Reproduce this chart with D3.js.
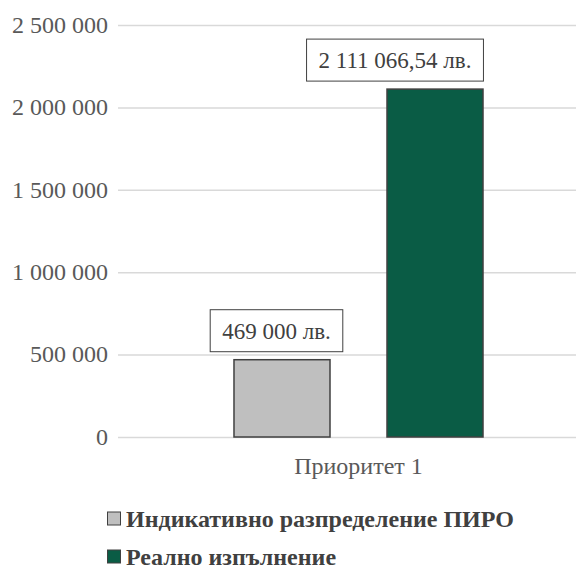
<!DOCTYPE html>
<html><head><meta charset="utf-8">
<script src="https://cdn.jsdelivr.net/npm/d3@7"></script>
<style>body{margin:0;background:#fff}svg{display:block}</style>
</head><body>
<svg id="c" width="576" height="567"></svg>
<script>
const categories = ["Приоритет 1"];
const seriesNames = ["Индикативно разпределение ПИРО", "Реално изпълнение"];
const seriesValues = [469000, 2111066.54];
const valueLabels = ["469 000 лв.", "2 111 066,54 лв."];
const tickValues = [0, 500000, 1000000, 1500000, 2000000, 2500000];
const colors = ["#BFBFBF", "#0A5C45"];
const labelOffsets = [-5.5, -40];

const svg = d3.select("#c");
const FONT = "Liberation Serif";
const m = {l:118, r:599, t:25, b:437};
const y = d3.scaleLinear().domain([0, 2500000]).range([m.b, m.t]);
const x0 = d3.scaleBand().domain(categories).range([m.l, m.r]);
const x1 = d3.scaleBand().domain(seriesNames).range([0, x0.bandwidth()]).paddingInner(0.3725).paddingOuter(0.758);

const fmt = v => d3.format(",")(v).replace(/,/g, " ");
const yAxis = d3.axisLeft(y).tickValues(tickValues).tickSize(-(m.r - m.l)).tickFormat(fmt).tickPadding(10);
const g = svg.append("g").attr("transform", `translate(${m.l},0)`).call(yAxis);
g.attr("font-family", FONT).attr("font-size", 24);
g.select(".domain").remove();
g.selectAll(".tick line").attr("stroke", "#D9D9D9").attr("stroke-width", 1.5);
g.selectAll(".tick text").attr("fill", "#595959").attr("dy", "0.3em");

const bars = svg.append("g");
seriesNames.forEach((s, i) => {
  const xb = x0(categories[0]) + x1(s);
  bars.append("rect").attr("x", xb).attr("y", y(seriesValues[i]))
    .attr("width", x1.bandwidth()).attr("height", y(0) - y(seriesValues[i]))
    .attr("fill", colors[i]).attr("stroke", "#404040").attr("stroke-width", 1.5);
  const cx = xb + x1.bandwidth() / 2 + labelOffsets[i];
  const top = y(seriesValues[i]) - 50;
  const box = bars.append("rect").attr("y", top).attr("height", 42)
    .attr("fill", "#fff").attr("stroke", "#404040").attr("stroke-width", 1);
  const t = bars.append("text").attr("x", cx).attr("y", top + 29)
    .attr("text-anchor", "middle").attr("fill", "#404040")
    .attr("font-family", FONT).attr("font-size", 23).text(valueLabels[i]);
  const w = t.node().getComputedTextLength();
  box.attr("x", cx - w / 2 - 12).attr("width", w + 24);
});

svg.append("text").attr("x", x0(categories[0]) + x0.bandwidth() / 2).attr("y", 474)
  .attr("text-anchor", "middle").attr("fill", "#595959")
  .attr("font-family", FONT).attr("font-size", 24).text(categories[0]);

const leg = svg.append("g");
seriesNames.forEach((s, i) => {
  const base = 527 + i * 38;
  leg.append("rect").attr("x", 107.5).attr("y", base - 15).attr("width", 13).attr("height", 13)
    .attr("fill", colors[i]).attr("stroke", "#404040").attr("stroke-width", 1);
  leg.append("text").attr("x", 126).attr("y", base)
    .attr("fill", "#404040").attr("font-family", FONT).attr("font-size", 24).attr("font-weight", "bold").text(s);
});
</script>
</body></html>
